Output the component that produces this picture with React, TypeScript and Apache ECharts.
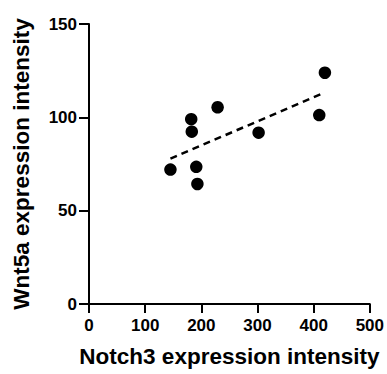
import React, { useEffect, useRef } from "react";
import * as echarts from "echarts";

const notch3 = [145, 182, 183, 191, 193, 229, 302, 410, 420];
const wnt5a = [72, 99, 92.3, 73.5, 64.3, 105.4, 91.8, 101.2, 123.9];
const xTicks = [0, 100, 200, 300, 400, 500];
const yTicks = [0, 50, 100, 150];

function fitLine(xs: number[], ys: number[]) {
  const n = xs.length;
  const mx = xs.reduce((a, b) => a + b, 0) / n;
  const my = ys.reduce((a, b) => a + b, 0) / n;
  let sxy = 0;
  let sxx = 0;
  for (let i = 0; i < n; i++) {
    sxy += (xs[i] - mx) * (ys[i] - my);
    sxx += (xs[i] - mx) * (xs[i] - mx);
  }
  const slope = sxy / sxx;
  const icpt = my - slope * mx;
  const x0 = Math.min(...xs);
  const x1 = Math.max(...xs);
  return [
    [x0, icpt + slope * x0],
    [x1, icpt + slope * x1],
  ];
}

export default function App() {
  const ref = useRef<HTMLDivElement>(null);
  useEffect(() => {
    if (!ref.current) return;
    const chart = echarts.init(ref.current, null, { renderer: "svg" });
    const font = "'Liberation Sans', Arial, sans-serif";
    chart.setOption({
      animation: false,
      grid: { left: 89, right: 16, top: 24, bottom: 70, containLabel: false },
      xAxis: {
        type: "value",
        min: xTicks[0],
        max: xTicks[xTicks.length - 1],
        interval: 100,
        name: "Notch3 expression intensity",
        nameLocation: "middle",
        nameGap: 41,
        nameTextStyle: { fontFamily: font, fontWeight: "bold", fontSize: 22.5, color: "#000" },
        axisLine: { show: true, lineStyle: { color: "#000", width: 2 } },
        axisTick: { show: true, length: 9, lineStyle: { color: "#000", width: 2 } },
        axisLabel: { fontFamily: font, fontWeight: "bold", fontSize: 17, color: "#000", margin: 13 },
        splitLine: { show: false },
      },
      yAxis: {
        type: "value",
        min: yTicks[0],
        max: yTicks[yTicks.length - 1],
        interval: 50,
        name: "Wnt5a expression intensity",
        nameLocation: "middle",
        nameGap: 56,
        nameTextStyle: { fontFamily: font, fontWeight: "bold", fontSize: 22.5, color: "#000" },
        axisLine: { show: true, lineStyle: { color: "#000", width: 2 } },
        axisTick: { show: true, length: 10, lineStyle: { color: "#000", width: 2 } },
        axisLabel: { fontFamily: font, fontWeight: "bold", fontSize: 17, color: "#000", margin: 12 },
        splitLine: { show: false },
      },
      series: [
        {
          type: "line",
          data: fitLine(notch3, wnt5a),
          symbol: "none",
          lineStyle: { color: "#000", width: 2.5, type: [7, 5] },
          z: 1,
        },
        {
          type: "scatter",
          data: notch3.map((x, i) => [x, wnt5a[i]]),
          symbol: "circle",
          symbolSize: 12.5,
          itemStyle: { color: "#000", opacity: 1 },
          z: 2,
        },
      ],
    });
    return () => chart.dispose();
  }, []);
  return <div ref={ref} style={{ width: 387, height: 374, position: "absolute", left: 0, top: 0, background: "#fff" }} />;
}
